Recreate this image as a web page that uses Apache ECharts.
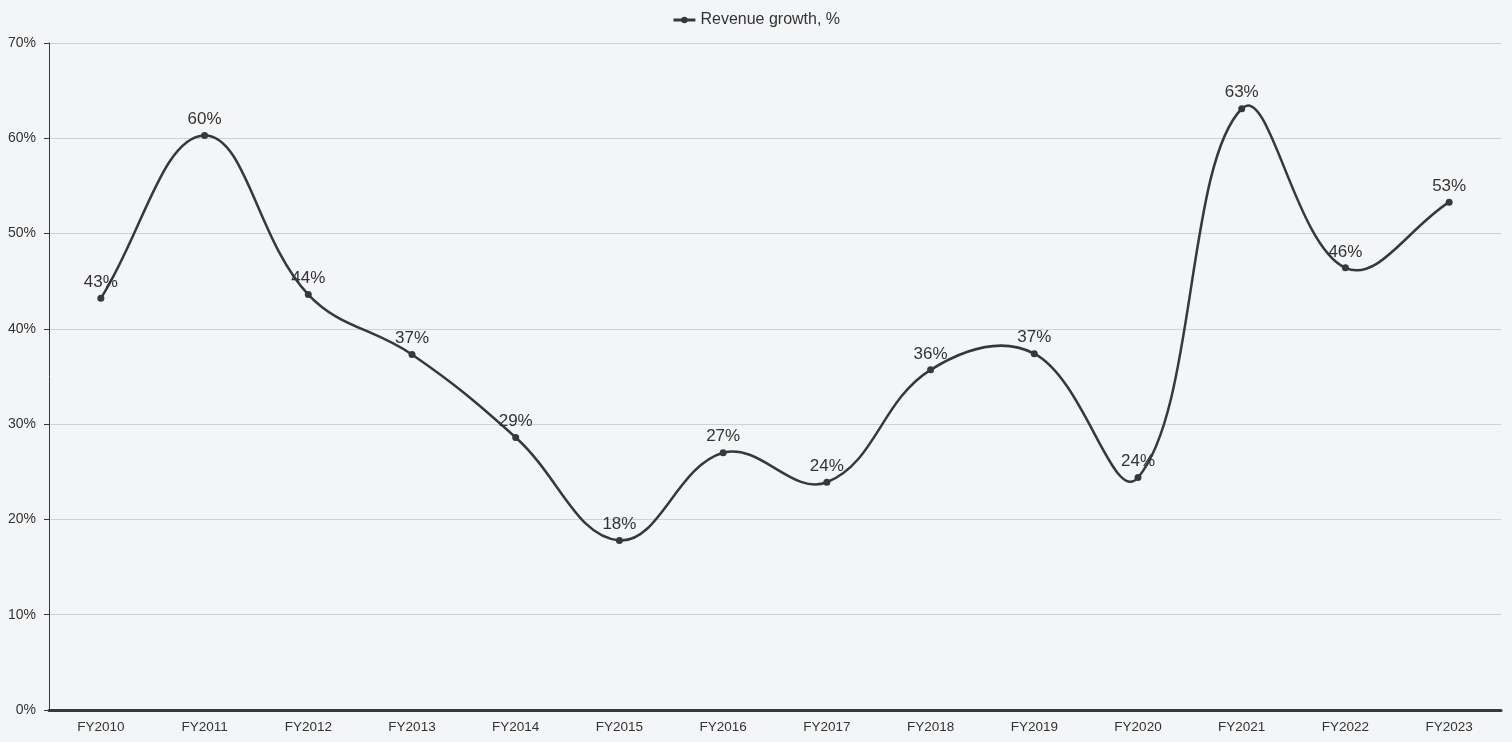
<!DOCTYPE html>
<html><head><meta charset="utf-8">
<script src="https://cdn.jsdelivr.net/npm/echarts@6/dist/echarts.min.js"></script>
<style>html,body{margin:0;padding:0;background:#f4f5f7;}#c{width:1512px;height:742px;}</style>
</head><body><div id="c"></div>
<script>
const categories = ['FY2010','FY2011','FY2012','FY2013','FY2014','FY2015','FY2016','FY2017','FY2018','FY2019','FY2020','FY2021','FY2022','FY2023'];
const revenueGrowth = [43.2, 60.3, 43.6, 37.3, 28.6, 17.8, 27.0, 23.9, 35.7, 37.4, 24.4, 63.1, 46.4, 53.3];
const seriesName = 'Revenue growth, %';
const yTicks = [0,10,20,30,40,50,60,70];

const FONT = 'Liberation Sans, Arial, Helvetica, sans-serif';
const LINE_COLOR = '#33393d';
const TENSION = 0.4;

// Cardinal spline (tension-based) control points computed in pixel space from api.coord
function controlPoints(pts, i) {
  const cur = pts[i];
  const prev = pts[i - 1] || cur;
  const next = pts[i + 1] || cur;
  const d01 = Math.hypot(cur[0] - prev[0], cur[1] - prev[1]);
  const d12 = Math.hypot(next[0] - cur[0], next[1] - cur[1]);
  let s01 = d01 / (d01 + d12), s12 = d12 / (d01 + d12);
  if (isNaN(s01)) s01 = 0;
  if (isNaN(s12)) s12 = 0;
  const fa = TENSION * s01, fb = TENSION * s12;
  return {
    prev: [cur[0] - fa * (next[0] - prev[0]), cur[1] - fa * (next[1] - prev[1])],
    next: [cur[0] + fb * (next[0] - prev[0]), cur[1] + fb * (next[1] - prev[1])]
  };
}

const chart = echarts.init(document.getElementById('c'));
chart.setOption({
  backgroundColor: '#f4f5f7',
  animation: false,
  legend: {
    top: 7, left: 'center',
    data: [seriesName],
    itemWidth: 22, itemHeight: 8, itemGap: 6,
    lineStyle: { color: LINE_COLOR, width: 3, opacity: 1 },
    itemStyle: { color: LINE_COLOR },
    textStyle: { fontSize: 16, color: '#333', fontFamily: FONT }
  },
  grid: { left: 49, right: 11, top: 43, bottom: 32 },
  xAxis: {
    type: 'category',
    data: categories,
    boundaryGap: true,
    axisLine: { lineStyle: { color: LINE_COLOR, width: 3 } },
    axisTick: { show: false },
    axisLabel: { fontSize: 13.5, color: '#333', margin: 10, fontFamily: FONT }
  },
  yAxis: {
    type: 'value',
    min: yTicks[0], max: yTicks[yTicks.length - 1], interval: 10,
    axisLine: { show: true, lineStyle: { color: LINE_COLOR, width: 1 } },
    axisTick: { show: true, length: 5, lineStyle: { color: LINE_COLOR } },
    splitLine: { lineStyle: { color: '#cfd1d4', width: 1 } },
    axisLabel: { fontSize: 14, color: '#333', margin: 13, formatter: v => v + '%', fontFamily: FONT }
  },
  series: [{
    type: 'custom',
    data: revenueGrowth.map((v, i) => [i, v]),
    z: 2,
    silent: true,
    renderItem: function (params, api) {
      const i = params.dataIndex;
      if (i >= revenueGrowth.length - 1) return null;
      const pts = revenueGrowth.map((v, k) => api.coord([k, v]));
      const a = controlPoints(pts, i);
      const b = controlPoints(pts, i + 1);
      return {
        type: 'bezierCurve',
        shape: {
          x1: pts[i][0], y1: pts[i][1],
          cpx1: a.next[0], cpy1: a.next[1],
          cpx2: b.prev[0], cpy2: b.prev[1],
          x2: pts[i + 1][0], y2: pts[i + 1][1]
        },
        style: { stroke: LINE_COLOR, lineWidth: 2.5, fill: null, lineCap: 'round' }
      };
    }
  }, {
    name: seriesName,
    type: 'line',
    data: revenueGrowth,
    z: 3,
    symbol: 'circle',
    symbolSize: 7,
    lineStyle: { color: LINE_COLOR, width: 0, opacity: 0 },
    itemStyle: { color: LINE_COLOR },
    label: {
      show: true, position: 'top', distance: 4,
      fontSize: 17, color: '#333',
      fontFamily: FONT,
      formatter: p => Math.round(p.value) + '%'
    }
  }]
});
</script></body></html>
